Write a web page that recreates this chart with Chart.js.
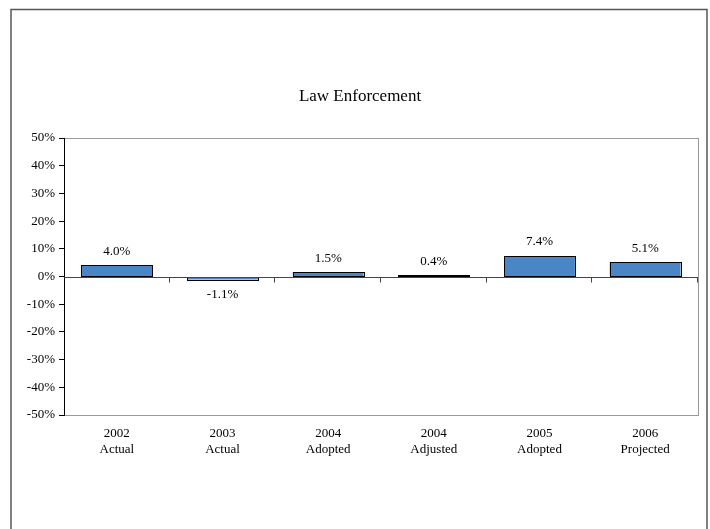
<!DOCTYPE html>
<html>
<head>
<meta charset="utf-8">
<title>Law Enforcement</title>
<script src="https://cdn.jsdelivr.net/npm/chart.js@4"></script>
<style>
    html, body { margin: 0; padding: 0; background: #fff; }
    canvas { display: block; }
</style>
</head>
<body>
<canvas id="lawChart" width="710" height="529"></canvas>
<script>
    // Year-over-year change, percent
    let years = ["2002", "2003", "2004", "2004", "2005", "2006"];
    let stages = ["Actual", "Actual", "Adopted", "Adjusted", "Adopted", "Projected"];
    let changes = [4.0, -1.1, 1.5, 0.4, 7.4, 5.1];

    let serif = "'Liberation Serif', 'Times New Roman', serif";

    // outer frame, plot box, bar outlines, zero line with category ticks, value labels
    let decorations = {
        id: "decorations",
        beforeDraw(chart) {
            let ctx = chart.ctx;
            let a = chart.chartArea;
            ctx.save();
            ctx.strokeStyle = "#555";
            ctx.lineWidth = 1.5;
            ctx.strokeRect(11, 9.5, 696, 540);
            ctx.strokeStyle = "#9a9a9a";
            ctx.lineWidth = 1;
            ctx.strokeRect(Math.round(a.left) + 0.5, Math.round(a.top) + 0.5,
                Math.round(a.right - a.left), Math.round(a.bottom - a.top));
            ctx.restore();
        },
        afterDatasetsDraw(chart) {
            let ctx = chart.ctx;
            let a = chart.chartArea;
            let y0 = Math.round(chart.scales.y.getPixelForValue(0)) + 0.5;
            let bars = chart.getDatasetMeta(0).data;
            ctx.save();

            // crisp black outline round each bar
            ctx.strokeStyle = "#000";
            ctx.lineWidth = 1;
            bars.forEach(bar => {
                let l = Math.round(bar.x - bar.width / 2) + 0.5;
                let r = Math.round(bar.x + bar.width / 2) + 0.5;
                let t = Math.round(Math.min(bar.y, bar.base)) + 0.5;
                let b = Math.round(Math.max(bar.y, bar.base)) + 0.5;
                if (b - t < 1) b = t + 1;
                ctx.strokeRect(l, t, r - l, b - t);
            });

            ctx.strokeStyle = "#444";
            ctx.beginPath();
            ctx.moveTo(a.left, y0);
            ctx.lineTo(a.right, y0);
            let step = (a.right - a.left) / changes.length;
            for (let i = 1; i <= changes.length; i++) {
                let x = Math.round(a.left + i * step) - 0.5;
                ctx.moveTo(x, y0);
                ctx.lineTo(x, y0 + 5);
            }
            ctx.stroke();

            ctx.fillStyle = "#000";
            ctx.font = "13px " + serif;
            ctx.textAlign = "center";
            ctx.textBaseline = "middle";
            bars.forEach((bar, i) => {
                let v = changes[i];
                let y = v >= 0 ? bar.y - 14 : bar.y + 15;
                ctx.fillText(v.toFixed(1) + "%", bar.x, y);
            });
            ctx.restore();
        }
    };

    let ctxLaw = document.getElementById("lawChart").getContext("2d");
    new Chart(ctxLaw, {
        type: "bar",
        data: {
            labels: years.map((y, i) => [y, stages[i]]),
            datasets: [{
                data: changes,
                backgroundColor: "#4a86c6",
                borderWidth: 0,
                barPercentage: 0.67,
                categoryPercentage: 1
            }]
        },
        options: {
            responsive: false,
            animation: false,
            layout: { padding: { left: 22, right: 12, top: 0, bottom: 64 } },
            plugins: {
                legend: { display: false },
                tooltip: { enabled: false },
                title: {
                    display: true,
                    text: "Law Enforcement",
                    color: "#000",
                    font: { family: serif, size: 17, weight: "normal", lineHeight: 1.2 },
                    padding: { top: 86, bottom: 31.6 }
                }
            },
            scales: {
                x: {
                    grid: { display: false },
                    border: { display: false },
                    ticks: {
                        color: "#000",
                        padding: 2,
                        maxRotation: 0,
                        font: { family: serif, size: 13, lineHeight: 1.25 }
                    },
                    afterFit(scale) { scale.height = 50; }
                },
                y: {
                    min: -50,
                    max: 50,
                    grid: {
                        drawOnChartArea: false,
                        color: "#000",
                        tickLength: 5
                    },
                    border: { color: "#000", width: 1 },
                    ticks: {
                        stepSize: 10,
                        color: "#000",
                        padding: 4,
                        font: { family: serif, size: 13 },
                        callback: v => v + "%"
                    },
                    afterFit(scale) { scale.width = 42; }
                }
            }
        },
        plugins: [decorations]
    });
</script>
</body>
</html>
